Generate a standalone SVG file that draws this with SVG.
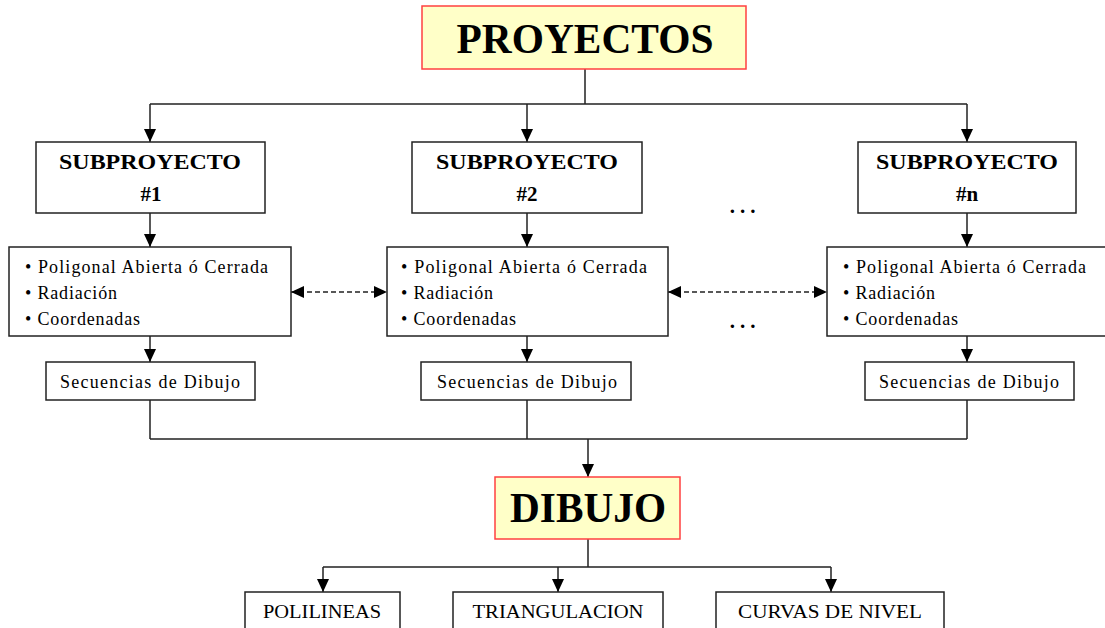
<svg xmlns="http://www.w3.org/2000/svg" width="1105" height="628" viewBox="0 0 1105 628">
  <style>
    .box { fill: #ffffff; stroke: #222222; stroke-width: 1.5; }
    .main { fill: #ffffc8; stroke: #ff4040; stroke-width: 1.5; }
    .wire { fill: none; stroke: #222222; stroke-width: 1.5; }
    .arrow { fill: none; stroke: #222222; stroke-width: 1.5; marker-end: url(#head); }
    .dash { fill: none; stroke: #222222; stroke-width: 1.5; stroke-dasharray: 5 3; marker-start: url(#head); marker-end: url(#head); }
    .title { font-family: "Liberation Serif", "Times New Roman", serif; font-weight: bold; font-size: 43px; fill: #000; text-anchor: middle; }
    .sub { font-family: "Liberation Serif", "Times New Roman", serif; font-weight: bold; font-size: 21px; fill: #000; text-anchor: middle; }
    .item { font-family: "Liberation Serif", "Times New Roman", serif; font-size: 18px; fill: #000; }
    .label { font-family: "Liberation Serif", "Times New Roman", serif; font-size: 18px; fill: #000; text-anchor: middle; }
    .cap { font-family: "Liberation Serif", "Times New Roman", serif; font-size: 19px; fill: #000; text-anchor: middle; }
    .dots { font-family: "Liberation Serif", "Times New Roman", serif; font-weight: bold; font-size: 21px; fill: #000; text-anchor: middle; letter-spacing: 5px; }
  </style>
  <defs>
    <marker id="head" markerUnits="userSpaceOnUse" markerWidth="13" markerHeight="12" refX="13" refY="6" orient="auto-start-reverse">
      <path d="M0,0 L13,6 L0,12 Z" fill="#000"/>
    </marker>
  </defs>

  <rect width="1105" height="628" fill="#ffffff"/>

  <!-- connectors -->
  <g id="connectors">
    <!-- PROYECTOS to sub-projects -->
    <path class="wire" d="M585,69 V104 M150,104 H967"/>
    <path class="arrow" d="M150,104 V142"/>
    <path class="arrow" d="M527,104 V142"/>
    <path class="arrow" d="M967,104 V142"/>
    <!-- sub-project to methods -->
    <path class="arrow" d="M150,213 V247"/>
    <path class="arrow" d="M527,213 V247"/>
    <path class="arrow" d="M967,213 V247"/>
    <!-- methods to drawing sequences -->
    <path class="arrow" d="M150,336 V362"/>
    <path class="arrow" d="M527,336 V362"/>
    <path class="arrow" d="M967,336 V362"/>
    <!-- links between method boxes -->
    <path class="dash" d="M291,292 H387"/>
    <path class="dash" d="M668,292 H827"/>
    <!-- sequences to DIBUJO -->
    <path class="wire" d="M150,400 V439 M527,400 V439 M967,400 V439 M150,439 H967"/>
    <path class="arrow" d="M588,439 V477"/>
    <!-- DIBUJO to outputs -->
    <path class="wire" d="M588,539 V567 M323,567 H831"/>
    <path class="arrow" d="M323,567 V592"/>
    <path class="arrow" d="M558,567 V592"/>
    <path class="arrow" d="M831,567 V592"/>
  </g>

  <!-- top node -->
  <g id="proyectos">
    <rect class="main" x="422" y="6" width="324" height="63"/>
    <text class="title" x="585" y="53" textLength="257" lengthAdjust="spacingAndGlyphs">PROYECTOS</text>
  </g>

  <!-- sub-projects -->
  <g id="sub1">
    <rect class="box" x="36" y="142" width="229" height="71"/>
    <text class="sub" x="150" y="169" textLength="182" lengthAdjust="spacingAndGlyphs">SUBPROYECTO</text>
    <text class="sub" x="151" y="201">#1</text>
  </g>
  <g id="sub2">
    <rect class="box" x="412" y="142" width="230" height="71"/>
    <text class="sub" x="527" y="169" textLength="182" lengthAdjust="spacingAndGlyphs">SUBPROYECTO</text>
    <text class="sub" x="527" y="201">#2</text>
  </g>
  <g id="subn">
    <rect class="box" x="858" y="142" width="218" height="71"/>
    <text class="sub" x="967" y="169" textLength="182" lengthAdjust="spacingAndGlyphs">SUBPROYECTO</text>
    <text class="sub" x="967" y="201">#n</text>
  </g>

  <!-- ellipses between columns -->
  <g id="ellipsis">
    <text class="dots" x="745" y="213">...</text>
    <text class="dots" x="745" y="328">...</text>
  </g>

  <!-- survey methods -->
  <g id="methods1">
    <rect class="box" x="9" y="247" width="282" height="89"/>
    <text class="item" x="25" y="273" textLength="243" lengthAdjust="spacing">• Poligonal Abierta ó Cerrada</text>
    <text class="item" x="25" y="299" textLength="92" lengthAdjust="spacing">• Radiación</text>
    <text class="item" x="25" y="325" textLength="115" lengthAdjust="spacing">• Coordenadas</text>
  </g>
  <g id="methods2">
    <rect class="box" x="387" y="247" width="281" height="89"/>
    <text class="item" x="401" y="273" textLength="246" lengthAdjust="spacing">• Poligonal Abierta ó Cerrada</text>
    <text class="item" x="401" y="299" textLength="92" lengthAdjust="spacing">• Radiación</text>
    <text class="item" x="401" y="325" textLength="115" lengthAdjust="spacing">• Coordenadas</text>
  </g>
  <g id="methodsn">
    <rect class="box" x="827" y="247" width="290" height="89"/>
    <text class="item" x="843" y="273" textLength="243" lengthAdjust="spacing">• Poligonal Abierta ó Cerrada</text>
    <text class="item" x="843" y="299" textLength="92" lengthAdjust="spacing">• Radiación</text>
    <text class="item" x="843" y="325" textLength="115" lengthAdjust="spacing">• Coordenadas</text>
  </g>

  <!-- drawing sequences -->
  <g id="seq1">
    <rect class="box" x="46" y="362" width="209" height="38"/>
    <text class="label" x="150" y="388" textLength="180" lengthAdjust="spacing">Secuencias de Dibujo</text>
  </g>
  <g id="seq2">
    <rect class="box" x="421" y="362" width="210" height="38"/>
    <text class="label" x="527" y="388" textLength="180" lengthAdjust="spacing">Secuencias de Dibujo</text>
  </g>
  <g id="seqn">
    <rect class="box" x="865" y="362" width="209" height="38"/>
    <text class="label" x="969" y="388" textLength="180" lengthAdjust="spacing">Secuencias de Dibujo</text>
  </g>

  <!-- drawing node -->
  <g id="dibujo">
    <rect class="main" x="495" y="477" width="185" height="62"/>
    <text class="title" x="588" y="522" textLength="156" lengthAdjust="spacingAndGlyphs">DIBUJO</text>
  </g>

  <!-- outputs -->
  <g id="polilineas">
    <rect class="box" x="245" y="592" width="155" height="50"/>
    <text class="cap" x="322" y="618" textLength="118" lengthAdjust="spacingAndGlyphs">POLILINEAS</text>
  </g>
  <g id="triangulacion">
    <rect class="box" x="453" y="592" width="210" height="50"/>
    <text class="cap" x="558" y="618" textLength="171" lengthAdjust="spacingAndGlyphs">TRIANGULACION</text>
  </g>
  <g id="curvas">
    <rect class="box" x="716" y="592" width="228" height="50"/>
    <text class="cap" x="830" y="618" textLength="184" lengthAdjust="spacingAndGlyphs">CURVAS DE NIVEL</text>
  </g>
</svg>
